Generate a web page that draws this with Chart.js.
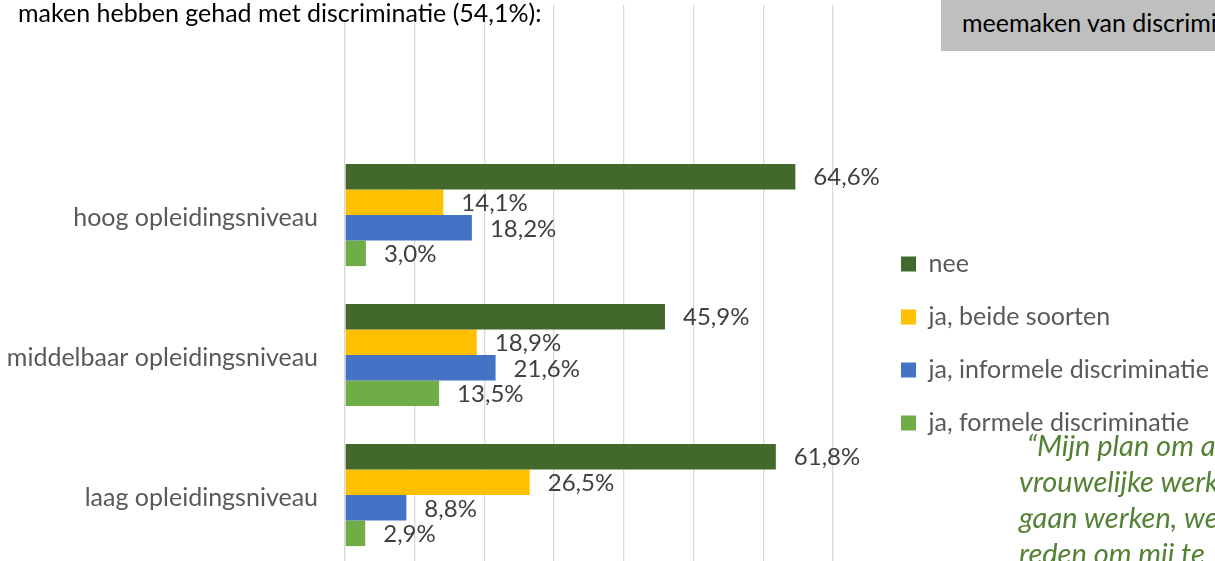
<!DOCTYPE html>
<html lang="nl">
<head>
<meta charset="utf-8">
<title>Discriminatie naar opleidingsniveau</title>
<script src="https://cdn.jsdelivr.net/npm/chart.js@4.4.1/dist/chart.umd.min.js"></script>
<style>
  html, body { margin: 0; padding: 0; width: 1215px; height: 561px; overflow: hidden; background: #fff; }
  body { position: relative; font-family: Lato, 'Open Sans', sans-serif; }
  #chartBox { position: absolute; left: 0; top: 0; width: 1215px; height: 682px; }
  .intro {
    position: absolute; left: 0; top: 0; width: 532px; height: 21px; padding-left: 18px;
    background: #fff; color: #000; font-size: 25px; line-height: 24px; white-space: nowrap;
  }
  .kader {
    position: absolute; left: 941px; top: 0; width: 300px; height: 51px; background: #bfbfbf;
    color: #000; font-size: 25px; line-height: 24px; white-space: nowrap;
  }
  .kader span { position: absolute; left: 21px; top: 10px; }
  .citaat {
    position: absolute; left: 1019px; top: 427px; color: #548235; font-style: italic;
    font-size: 29px; line-height: 36px; white-space: nowrap; text-indent: 8px;
  }
</style>
</head>
<body>
<div id="chartBox"><canvas id="mainChart"></canvas></div>
<div class="intro">maken hebben gehad met discriminatie (54,1%):</div>
<div class="kader"><span>meemaken van discriminatie</span></div>
<div class="citaat">“Mijn plan om als<br>vrouwelijke werknemer<br>gaan werken, werd<br>reden om mij te</div>

<script>
// === DATA ===
const categories = ['hoog opleidingsniveau', 'middelbaar opleidingsniveau', 'laag opleidingsniveau'];
const seriesNames = ['nee', 'ja, beide soorten', 'ja, informele discriminatie', 'ja, formele discriminatie'];
const neeValues = [64.6, 45.9, 61.8];
const beideValues = [14.1, 18.9, 26.5];
const informeelValues = [18.2, 21.6, 8.8];
const formeelValues = [3.0, 13.5, 2.9];
const axisMax = 70;
const axisStep = 10;

const seriesColors = ['#43682b', '#ffc000', '#4472c4', '#70ad47'];
const FONT = 'Lato';

// percentages met komma, zoals in het origineel
function pct(v) {
  return v.toFixed(1).replace('.', ',') + '%';
}

// === LABELS ACHTER DE BALKEN ===
const barValueLabels = {
  id: 'barValueLabels',
  afterDatasetsDraw(chart) {
    const ctx = chart.ctx;
    ctx.save();
    ctx.font = '24px ' + FONT;
    ctx.fillStyle = '#404040';
    ctx.textAlign = 'left';
    ctx.textBaseline = 'middle';
    chart.data.datasets.forEach((ds, i) => {
      chart.getDatasetMeta(i).data.forEach((bar, j) => {
        ctx.fillText(pct(ds.data[j]), bar.x + 18, bar.y + 1);
      });
    });
    ctx.restore();
  }
};

document.addEventListener('DOMContentLoaded', function () {
  const ctx = document.getElementById('mainChart').getContext('2d');
  const allValues = [neeValues, beideValues, informeelValues, formeelValues];

  new Chart(ctx, {
    type: 'bar',
    data: {
      labels: categories,
      datasets: seriesNames.map((name, i) => ({
        label: name,
        data: allValues[i],
        backgroundColor: seriesColors[i],
        borderWidth: 0,
        categoryPercentage: 0.73,
        barPercentage: 1.0
      }))
    },
    options: {
      indexAxis: 'y',
      responsive: true,
      maintainAspectRatio: false,
      animation: false,
      layout: { padding: { top: 5, left: 0, right: 0, bottom: 0 } },
      scales: {
        x: {
          position: 'top',
          min: 0,
          max: axisMax,
          ticks: { display: false, stepSize: axisStep },
          grid: { color: '#d9d9d9', lineWidth: 1.3, drawTicks: true, tickLength: 140 },
          border: { display: false }
        },
        y: {
          grid: { display: false, drawTicks: false },
          border: { display: false },
          ticks: { color: '#595959', font: { family: FONT, size: 25 }, padding: 27, labelOffset: 3 },
          afterFit(scale) { scale.width = 345; }
        },
        // lege assen: alleen ruimte zodat de legenda goed uitkomt
        xRuimte: {
          type: 'linear', position: 'bottom',
          grid: { display: false }, ticks: { display: false }, border: { display: false },
          afterFit(scale) { scale.height = 117; }
        },
        yRuimte: {
          type: 'linear', position: 'right',
          grid: { display: false }, ticks: { display: false }, border: { display: false },
          afterFit(scale) { scale.width = 40; }
        }
      },
      plugins: {
        legend: {
          position: 'right',
          align: 'center',
          maxWidth: 342,
          labels: {
            boxWidth: 15,
            boxHeight: 15,
            padding: 28,
            color: '#595959',
            font: { family: FONT, size: 25 }
          }
        },
        tooltip: { enabled: false }
      }
    },
    plugins: [barValueLabels]
  });
});
</script>
</body>
</html>
